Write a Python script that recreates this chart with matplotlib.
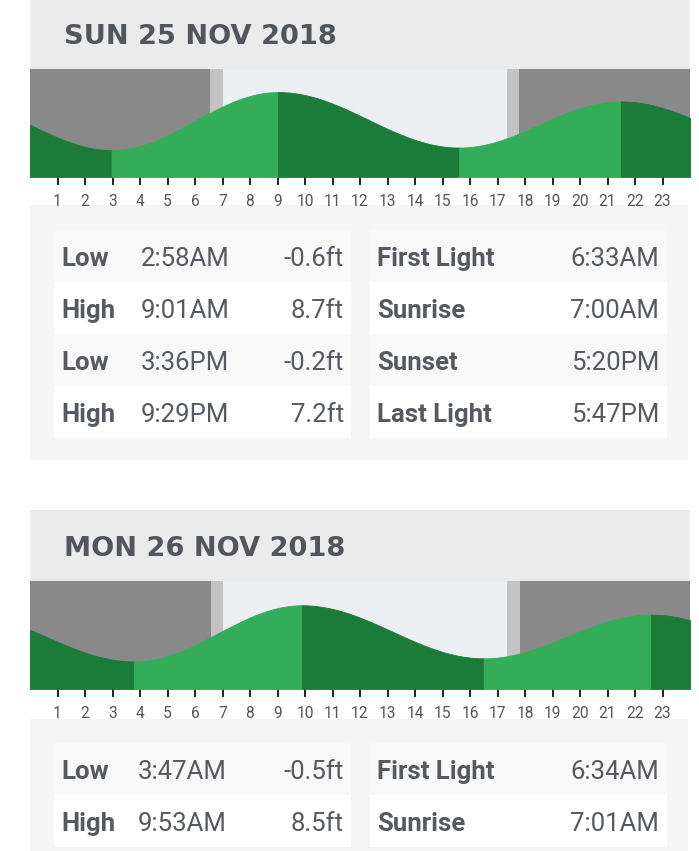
import numpy as np
import matplotlib
matplotlib.use("Agg")
import matplotlib.pyplot as plt
from matplotlib.patches import Rectangle

# ---------------- data ----------------
day_titles = ["SUN 25 NOV 2018", "MON 26 NOV 2018"]
hour_ticks = list(range(1, 24))

# tide extremes (hours after midnight, ft); first/last entries are the
# neighbouring extremes of the previous / next day (off the chart edges)
day1_tide_hours = [-2.9, 2.967, 9.017, 15.6, 21.483, 27.783]
day1_tide_ft = [7.4, -0.6, 8.7, -0.2, 7.2, -0.5]
day2_tide_hours = [-2.517, 3.783, 9.883, 16.5, 22.58, 28.8]
day2_tide_ft = [7.2, -0.5, 8.5, 0.0, 7.0, -0.3]

# first light, sunrise, sunset, last light (hours)
day1_light = [6.55, 7.0, 17.333, 17.783]
day2_light = [6.567, 7.017, 17.35, 17.8]

day1_tide_labels = ["Low", "High", "Low", "High"]
day1_tide_times = ["2:58AM", "9:01AM", "3:36PM", "9:29PM"]
day1_tide_heights = ["-0.6ft", "8.7ft", "-0.2ft", "7.2ft"]
day1_sun_labels = ["First Light", "Sunrise", "Sunset", "Last Light"]
day1_sun_times = ["6:33AM", "7:00AM", "5:20PM", "5:47PM"]

day2_tide_labels = ["Low", "High"]
day2_tide_times = ["3:47AM", "9:53AM"]
day2_tide_heights = ["-0.5ft", "8.5ft"]
day2_sun_labels = ["First Light", "Sunrise"]
day2_sun_times = ["6:34AM", "7:01AM"]

# ---------------- style ----------------
W, H = 699, 851
C_HEADER = "#ebebeb"
C_NIGHT = "#898989"
C_TWI = "#c3c3c3"
C_DAY = "#eceff1"
C_FALL = "#1b7c39"
C_RISE = "#34ad5a"
C_PANEL = "#f5f5f5"
C_ROW_ODD = "#f8f8f8"
C_ROW_EVEN = "#ffffff"
C_TEXT = "#555a60"
C_TITLE = "#50565c"
YMIN, YMAX = -4.92, 12.39

fig = plt.figure(figsize=(W / 100, H / 100), dpi=100)
fig.patch.set_facecolor("white")
bg = fig.add_axes([0, 0, 1, 1], zorder=0)
bg.set_xlim(0, W)
bg.set_ylim(H, 0)
bg.axis("off")


def tide_curve(ax, hours, ft):
    for i in range(len(hours) - 1):
        a, b = max(hours[i], 0.0), min(hours[i + 1], 24.0)
        if b <= a:
            continue
        ts = np.linspace(a, b, 200)
        frac = (ts - hours[i]) / (hours[i + 1] - hours[i])
        hs = ft[i] + (ft[i + 1] - ft[i]) * (1 - np.cos(np.pi * frac)) / 2
        col = C_FALL if ft[i + 1] < ft[i] else C_RISE
        ax.fill_between(ts, YMIN, hs, facecolor=col, edgecolor=col, lw=0.6, zorder=3)


def day_block(title, header_top, chart_top, title_base, title_x,
              hours, ft, light, panel_top, panel_bottom, row_top0,
              tide_labels, tide_times, tide_heights, sun_labels, sun_times,
              time_x):
    # header band
    bg.add_patch(Rectangle((30, header_top), 660, chart_top - header_top,
                           facecolor=C_HEADER, lw=0))
    bg.text(title_x, title_base, title, ha="left", va="baseline",
            fontsize=19.6, fontweight="bold", family="DejaVu Sans", color=C_TITLE)
    # chart
    ax = fig.add_axes([30 / W, 1 - (chart_top + 108) / H, 660 / W, 108 / H], zorder=2)
    fl, sr, ss, ll = light
    ax.axvspan(0, fl, color=C_NIGHT, lw=0, zorder=1)
    ax.axvspan(fl, sr, color=C_TWI, lw=0, zorder=1)
    ax.axvspan(sr, ss, color=C_DAY, lw=0, zorder=1)
    ax.axvspan(ss, ll, color=C_TWI, lw=0, zorder=1)
    ax.axvspan(ll, 24, color=C_NIGHT, lw=0, zorder=1)
    tide_curve(ax, hours, ft)
    ax.set_xlim(0, 24)
    ax.set_ylim(YMIN, YMAX)
    for s in ax.spines.values():
        s.set_visible(False)
    ax.set_yticks([])
    ax.set_xticks(hour_ticks)
    ax.set_xticklabels([str(h) for h in hour_ticks], family="Roboto")
    ax.tick_params(axis="x", direction="out", length=6.0, width=1.4,
                   color="#222222", pad=6.5, labelsize=11.2, labelcolor="#555555")
    # table panel
    bg.add_patch(Rectangle((30, panel_top), 658, panel_bottom - panel_top,
                           facecolor=C_PANEL, lw=0))
    for k in range(len(tide_labels)):
        top = row_top0 + 52 * k
        col = C_ROW_ODD if k % 2 == 0 else C_ROW_EVEN
        bg.add_patch(Rectangle((54, top), 297, 52, facecolor=col, lw=0))
        bg.add_patch(Rectangle((370, top), 297, 52, facecolor=col, lw=0))
        base = top + 36
        bg.text(61, base, tide_labels[k], ha="left", va="baseline", fontsize=18.5,
                fontweight="bold", family="Roboto", color=C_TEXT)
        bg.text(time_x, base, tide_times[k], ha="left", va="baseline", fontsize=18.5,
                family="Roboto", color=C_TEXT)
        bg.text(344, base, tide_heights[k], ha="right", va="baseline", fontsize=18.5,
                family="Roboto", color=C_TEXT)
        bg.text(377, base, sun_labels[k], ha="left", va="baseline", fontsize=18.5,
                fontweight="bold", family="Roboto", color=C_TEXT)
        bg.text(659, base, sun_times[k], ha="right", va="baseline", fontsize=18.5,
                family="Roboto", color=C_TEXT)


day_block(day_titles[0], 0, 69, 43.5, 64, day1_tide_hours, day1_tide_ft, day1_light,
          205, 460, 230, day1_tide_labels, day1_tide_times, day1_tide_heights,
          day1_sun_labels, day1_sun_times, 141)
day_block(day_titles[1], 510, 581, 556.5, 64, day2_tide_hours, day2_tide_ft, day2_light,
          719, 851, 743, day2_tide_labels, day2_tide_times, day2_tide_heights,
          day2_sun_labels, day2_sun_times, 138)

fig.savefig("out.png", dpi=100)
